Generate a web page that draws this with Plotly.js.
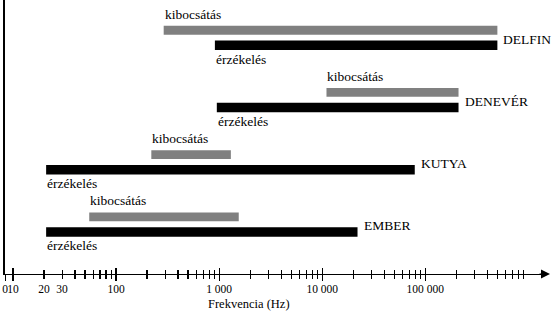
<!DOCTYPE html>
<html>
<head>
<meta charset="utf-8">
<script src="https://cdn.plot.ly/plotly-3.0.1.min.js"></script>
<style>html,body{margin:0;padding:0;background:#fff;}#chart{width:556px;height:318px;}</style>
</head>
<body>
<div id="chart"></div>
<script>
// ---- data (Hz) ----
const animals   = ['DELFIN', 'DENEVÉR', 'KUTYA', 'EMBER'];
const hearFrom  = [910, 950, 21, 21];
const hearTo    = [500000, 210000, 79000, 22000];
const emitFrom  = [290, 11000, 220, 55];
const emitTo    = [500000, 210000, 1300, 1550];
const hearLabel = 'érzékelés';
const emitLabel = 'kibocsátás';
const axisTitle = 'Frekvencia (Hz)';
// ---- axis ticks ----
const tickVals  = [8.42, 10, 20, 30, 100, 1000, 10000, 100000];
const tickText  = ['0', '10', '20', '30', '100', '1 000', '10 000', '100 000'];
const majorVals = [8.42, 10, 100, 1000, 10000, 100000];
const decades   = [10, 100, 1000, 10000, 100000];
const minorVals = [];
decades.forEach(d => { for (let k = 2; k <= 9; k++) minorVals.push(d * k); });

const FONT = '"Liberation Serif", "DejaVu Serif", serif';
const OFF = 0.121;
const GRAY = '#808080';
const xr = [Math.log10(8.38), Math.log10(8.38) + 540 / 103.1];

const traces = [
  {
    type: 'bar', orientation: 'h',
    y: animals.map((_, i) => i - OFF),
    base: emitFrom,
    x: emitTo.map((v, i) => v - emitFrom[i]),
    width: 0.143,
    marker: {color: GRAY, line: {width: 0}},
    hoverinfo: 'skip', showlegend: false
  },
  {
    type: 'bar', orientation: 'h',
    y: animals.map((_, i) => i + OFF),
    base: hearFrom,
    x: hearTo.map((v, i) => v - hearFrom[i]),
    width: 0.153,
    marker: {color: '#000', line: {width: 0}},
    hoverinfo: 'skip', showlegend: false
  },
  {type: 'scatter', x: [], y: [], xaxis: 'x2', showlegend: false, hoverinfo: 'skip'},
  {type: 'scatter', x: [], y: [], xaxis: 'x3', showlegend: false, hoverinfo: 'skip'}
];

const annotations = [];
animals.forEach((name, i) => {
  annotations.push({
    x: Math.log10(emitFrom[i]), y: i - OFF, xref: 'x', yref: 'y',
    text: emitLabel, showarrow: false, xanchor: 'left', yanchor: 'bottom',
    xshift: -1, yshift: 6.5, font: {family: FONT, size: 13.5, color: '#000'}
  });
  annotations.push({
    x: Math.log10(hearFrom[i]), y: i + OFF, xref: 'x', yref: 'y',
    text: hearLabel, showarrow: false, xanchor: 'left', yanchor: 'top',
    xshift: -1, yshift: -4.5, font: {family: FONT, size: 13.5, color: '#000'}
  });
  annotations.push({
    x: Math.log10(hearTo[i]), y: i + OFF, xref: 'x', yref: 'y',
    text: name, showarrow: false, xanchor: 'left', yanchor: 'middle',
    xshift: 4, yshift: 6, font: {family: FONT, size: 13.5, color: '#000'}
  });
});
annotations.push({
  xref: 'paper', yref: 'paper', x: 0.4519, y: 0, yanchor: 'middle', xanchor: 'center',
  yshift: -30, text: axisTitle, showarrow: false,
  font: {family: FONT, size: 12.5, color: '#000'}
});
annotations.push({
  xref: 'paper', yref: 'paper', x: (550 - 5) / 540, y: 0, ax: -12, ay: 0,
  text: '', showarrow: true, arrowhead: 2, arrowsize: 1.5, arrowwidth: 1.2,
  arrowcolor: '#000', standoff: 0
});

const baseAx = {
  type: 'log', range: xr, showgrid: false, zeroline: false, fixedrange: true
};

const layout = {
  width: 556, height: 318,
  margin: {l: 5, r: 11, t: 0, b: 44, pad: 0},
  paper_bgcolor: '#fff', plot_bgcolor: '#fff',
  barmode: 'overlay',
  showlegend: false,
  font: {family: FONT, color: '#000'},
  xaxis: Object.assign({}, baseAx, {
    showline: true, linecolor: '#000', linewidth: 1.2,
    tickmode: 'array', tickvals: majorVals, ticks: 'outside', ticklen: 6,
    tickwidth: 1.2, tickcolor: '#000', showticklabels: false,
    minor: {tickmode: 'array', tickvals: minorVals, ticks: 'outside', ticklen: 4, tickwidth: 1.2, tickcolor: '#000'}
  }),
  xaxis2: Object.assign({}, baseAx, {
    overlaying: 'x', anchor: 'y', side: 'bottom', showline: false,
    tickmode: 'array', tickvals: majorVals, ticks: 'inside', ticklen: 6,
    tickwidth: 1.2, tickcolor: '#000', showticklabels: false,
    minor: {tickmode: 'array', tickvals: minorVals, ticks: 'inside', ticklen: 4, tickwidth: 1.2, tickcolor: '#000'}
  }),
  xaxis3: Object.assign({}, baseAx, {
    overlaying: 'x', anchor: 'y', side: 'bottom', showline: false,
    tickmode: 'array', tickvals: tickVals, ticktext: tickText, ticks: '',
    showticklabels: true, ticklabelstandoff: 6, tickangle: 0,
    tickfont: {family: FONT, size: 11.5, color: '#000'}
  }),
  yaxis: {
    range: [3.797, -0.606], showline: true, linecolor: '#000', linewidth: 1.6,
    showgrid: false, zeroline: false, ticks: '', showticklabels: false, fixedrange: true
  },
  annotations: annotations
};

Plotly.newPlot('chart', traces, layout, {staticPlot: true, displayModeBar: false});
</script>
</body>
</html>
